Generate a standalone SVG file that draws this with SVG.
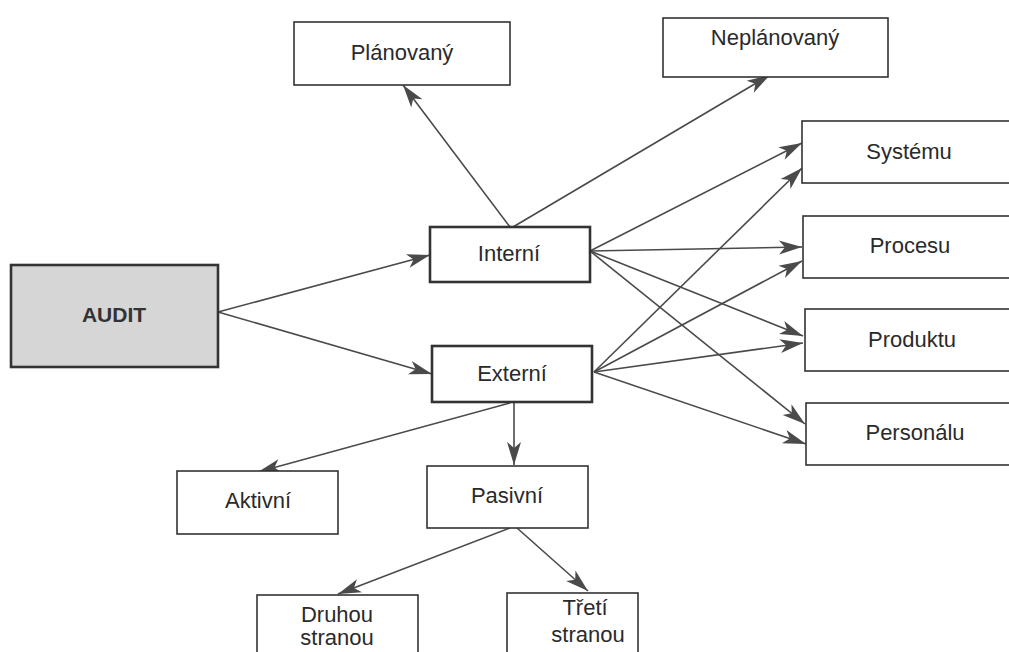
<svg xmlns="http://www.w3.org/2000/svg" width="1009" height="652" viewBox="0 0 1009 652">
<defs>
<marker id="ah" markerUnits="userSpaceOnUse" markerWidth="26" markerHeight="16" refX="23" refY="7" orient="auto" overflow="visible">
<path d="M0,0 L23,7 L0,14 L6,7 z" fill="#4a4a4a"/>
</marker>
<style>
.box{fill:#fff;stroke:#333;stroke-width:1.6}
.thick{fill:#fff;stroke:#333;stroke-width:2.6}
.audit{fill:#d6d6d6;stroke:#333;stroke-width:2.6}
.t{font-family:"Liberation Sans",Arial,sans-serif;font-size:22px;fill:#2a2a2a;text-anchor:middle}
.tb{font-family:"Liberation Sans",Arial,sans-serif;font-size:21px;font-weight:bold;fill:#333;text-anchor:middle}
.c{fill:none;stroke:#4a4a4a;stroke-width:1.6;marker-end:url(#ah)}
</style>
</defs>
<rect width="1009" height="652" fill="#fff"/>
<g id="connectors">
<line class="c" x1="218" y1="312" x2="430" y2="255"/>
<line class="c" x1="218" y1="312" x2="432" y2="374"/>
<line class="c" x1="510" y1="227" x2="403" y2="85"/>
<line class="c" x1="513" y1="227" x2="770" y2="75"/>
<line class="c" x1="590" y1="251" x2="802" y2="143"/>
<line class="c" x1="590" y1="251" x2="802" y2="247"/>
<line class="c" x1="590" y1="251" x2="803" y2="336"/>
<line class="c" x1="590" y1="251" x2="805" y2="424"/>
<line class="c" x1="594" y1="372" x2="802" y2="168"/>
<line class="c" x1="594" y1="372" x2="802" y2="261"/>
<line class="c" x1="594" y1="372" x2="803" y2="343"/>
<line class="c" x1="594" y1="372" x2="806" y2="444"/>
<line class="c" x1="510" y1="403" x2="258" y2="472"/>
<line class="c" x1="514" y1="403" x2="514" y2="465"/>
<line class="c" x1="510" y1="528" x2="338" y2="594"/>
<line class="c" x1="517" y1="528" x2="588" y2="591"/>
</g>
<g id="audit"><rect class="audit" x="11" y="265" width="207" height="102"/><text class="tb" x="114" y="322">AUDIT</text></g>
<g id="planovany"><rect class="box" x="294" y="22" width="216" height="63"/><text class="t" x="402" y="60">Plánovaný</text></g>
<g id="neplanovany"><rect class="box" x="663" y="18" width="225" height="59"/><text class="t" x="775" y="45">Neplánovaný</text></g>
<g id="interni"><rect class="thick" x="430" y="227" width="160" height="55"/><text class="t" x="509" y="261">Interní</text></g>
<g id="externi"><rect class="thick" x="432" y="346" width="160" height="56"/><text class="t" x="512" y="381">Externí</text></g>
<g id="systemu"><rect class="box" x="802" y="121" width="215" height="62"/><text class="t" x="909" y="159">Systému</text></g>
<g id="procesu"><rect class="box" x="803" y="216" width="215" height="62"/><text class="t" x="910" y="253">Procesu</text></g>
<g id="produktu"><rect class="box" x="805" y="309" width="215" height="62"/><text class="t" x="912" y="347">Produktu</text></g>
<g id="personalu"><rect class="box" x="806" y="403" width="215" height="62"/><text class="t" x="915" y="440">Personálu</text></g>
<g id="aktivni"><rect class="box" x="177" y="471" width="161" height="63"/><text class="t" x="258" y="508">Aktivní</text></g>
<g id="pasivni"><rect class="box" x="427" y="466" width="161" height="62"/><text class="t" x="507" y="503">Pasivní</text></g>
<g id="druhou"><rect class="box" x="257" y="595" width="161" height="70"/><text class="t" x="337" y="622">Druhou</text><text class="t" x="337" y="645">stranou</text></g>
<g id="treti"><rect class="box" x="507" y="593" width="131" height="70"/><text class="t" x="585" y="615">Třetí</text><text class="t" x="588" y="642">stranou</text></g>
</svg>
